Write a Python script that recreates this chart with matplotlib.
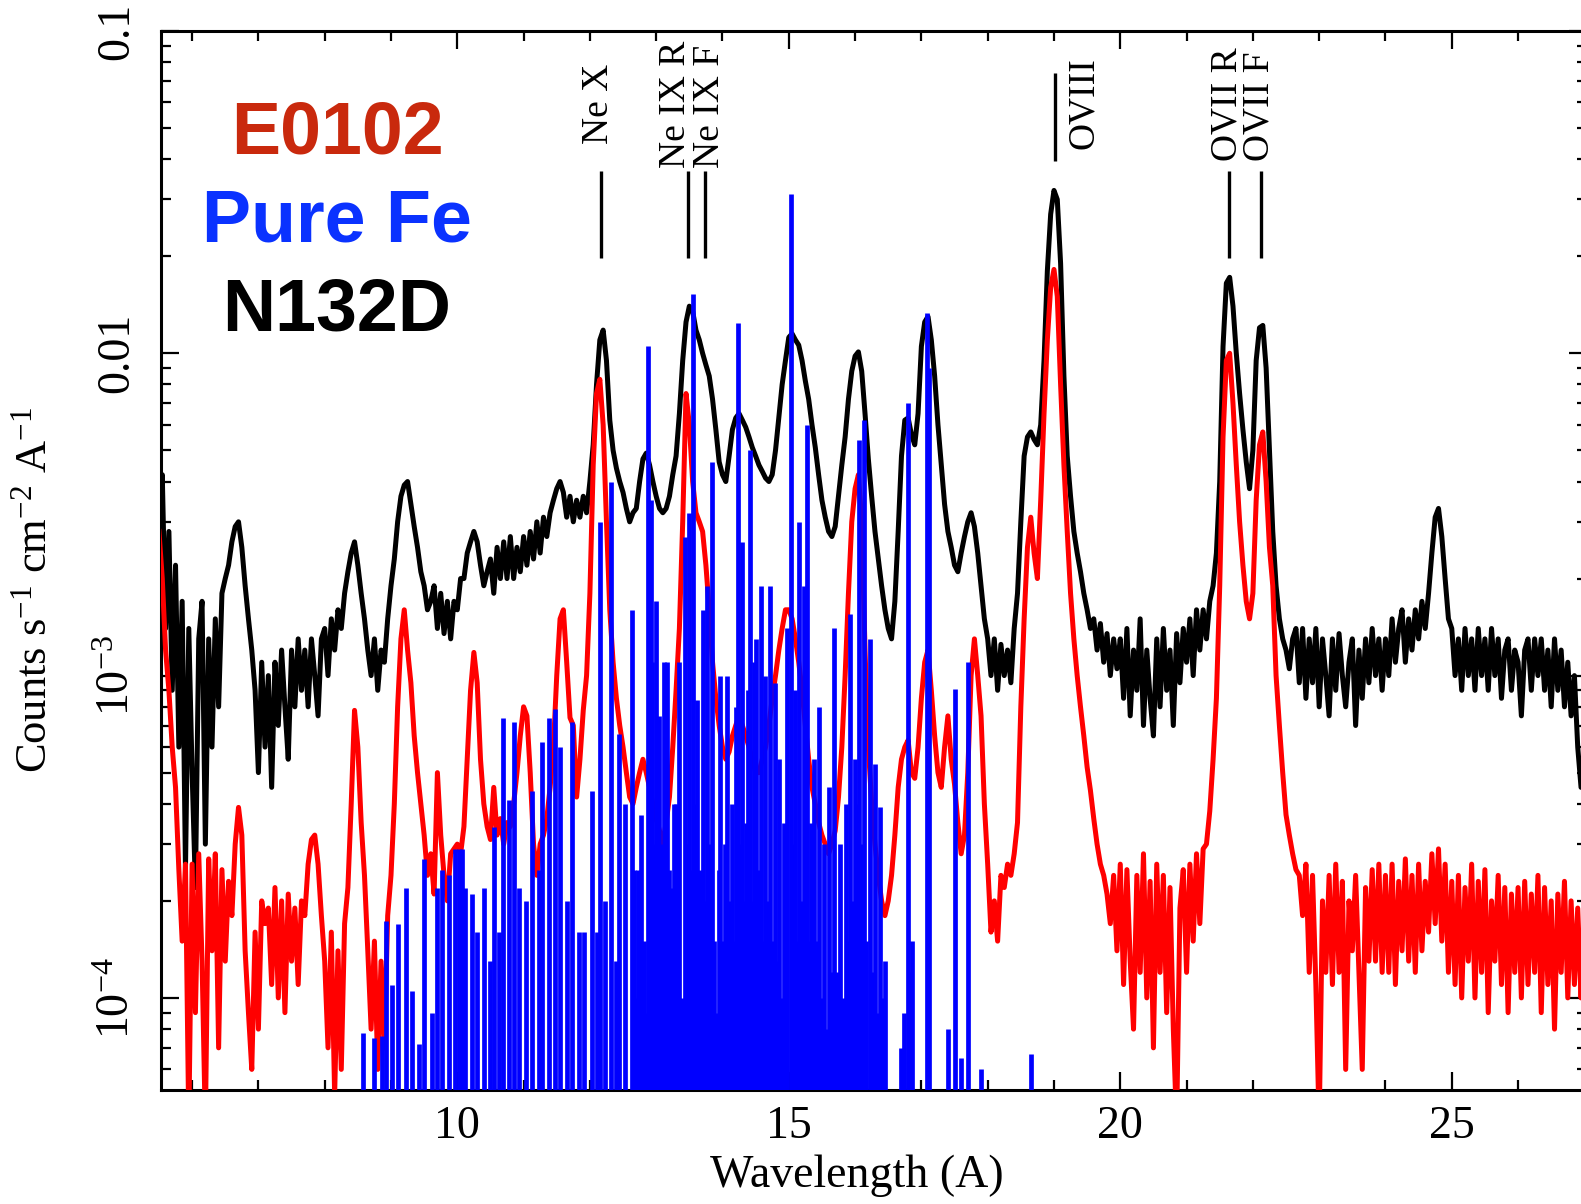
import numpy as np
import matplotlib
matplotlib.use("Agg")
import matplotlib.pyplot as plt
from matplotlib.ticker import FixedLocator, MultipleLocator, NullFormatter, LogLocator

plt.rcParams['font.family'] = ['Liberation Serif', 'DejaVu Serif']
plt.rcParams['mathtext.fontset'] = 'custom'
plt.rcParams['mathtext.rm'] = 'Liberation Serif'
plt.rcParams['mathtext.it'] = 'Liberation Serif:italic'

# spectra, flux in units of 1e-4 counts/s/cm2/A, sampled every 0.05 A from 5.5 A
unit = 1e-4
wl_start = 5.5
wl_step = 0.05

n132d = [
    30, 42, 14, 28, 9, 22, 6, 17, 2.5, 14,
    5, 2.2, 13, 17, 3, 13, 6, 15, 8, 18, 20, 22, 26, 29, 30, 25, 19, 15, 12, 9,
    5, 11, 6, 10, 4.5, 11, 7, 12, 8, 5.5, 12, 8, 13, 9, 12, 8, 13, 10, 7.5, 13,
    14, 10, 15, 12, 16, 14, 18, 21, 24, 26, 22, 18, 15, 12, 10, 13, 9, 12, 11, 15,
    19, 23, 30, 36, 39, 40, 34, 29, 25, 21, 19, 16, 17, 19, 14, 18, 13.5, 17, 13, 17,
    16, 20, 20, 24, 26, 28, 26, 22, 19, 21, 23, 18, 25, 20, 26, 20, 27, 20, 25, 21,
    27, 22, 28, 23, 30, 24, 31, 27, 32, 35, 38, 40, 37, 31, 36, 30, 35, 31, 36, 32,
    40, 52, 80, 110, 118, 95, 62, 50, 44, 40, 37, 33, 30, 32, 33, 40, 47, 49, 45, 40,
    36, 33, 32, 33, 36, 42, 48, 65, 95, 125, 140, 135, 118, 110, 100, 92, 85, 72, 58, 46,
    42, 40, 48, 58, 63, 65, 62, 59, 55, 51, 48, 45, 43, 41, 40, 42, 50, 63, 80, 95,
    112, 115, 110, 106, 95, 82, 72, 60, 51, 42, 35, 31, 28, 27, 29, 36, 45, 55, 72, 88,
    98, 101, 88, 65, 47, 36, 28, 23, 19, 16, 14, 13, 17, 28, 48, 62, 63, 56, 52, 65,
    105, 125, 130, 110, 85, 60, 45, 34, 28, 25, 22, 21, 24, 27, 30, 32, 29, 24, 19, 15,
    13, 10, 13, 9, 12.5, 10, 12, 9.5, 14, 18, 30, 48, 55, 57, 54, 52, 60, 95, 180, 270,
    320, 300, 190, 85, 48, 36, 28, 24, 21, 18, 16, 14, 15, 12, 14.5, 11, 13.5, 10, 13, 10.5,
    13, 8.5, 14, 7.5, 12, 9, 15, 7, 12, 8.5, 6.5, 13, 8, 14, 9, 12, 7, 13.5, 9.5, 14,
    11, 15, 10, 16, 12, 16, 13, 17, 19, 24, 40, 105, 165, 172, 140, 100, 75, 58, 46, 38,
    50, 95, 120, 122, 90, 50, 28, 19, 15, 13, 12, 10.5, 13, 14, 9.5, 14, 8.5, 13, 9.5, 14,
    8, 13, 10, 7.5, 13, 9, 13.5, 10, 8, 11, 13, 7, 12, 8.5, 13, 9.5, 14, 10, 13, 9,
    13, 10, 15, 11, 14, 16, 11, 15, 12, 16, 13, 17, 14, 18, 24, 31, 33, 27, 20, 15,
    14, 10, 13, 9, 14, 10, 13, 9, 14, 10, 13, 9, 14, 10, 13, 8.5, 12, 13, 9, 12,
    11, 7.5, 12, 13, 9, 13, 10, 13, 9, 12, 8, 13, 9, 12, 8, 11, 7.5, 10, 6, 4.5,
    4.5, 10,
]

e0102 = [
    28, 20, 12, 9, 6, 4.5, 2.5, 1.5, 2.6, 0.4,
    2.6, 0.9, 2.8, 1.3, 0.4, 2.7, 1.4, 2.8, 0.7, 2.5, 1.3, 2.3, 1.8, 3.0, 3.9, 3.2, 1.4, 0.9, 0.6, 1.6,
    0.8, 2.0, 1.7, 1.9, 1.1, 2.2, 1.0, 2.0, 0.9, 2.1, 1.3, 1.9, 1.1, 2.0, 1.8, 2.6, 3.1, 3.2, 2.6, 1.8,
    1.3, 0.7, 1.6, 0.5, 1.4, 0.6, 1.7, 2.2, 4.0, 7.8, 6.0, 3.5, 2.4, 1.4, 0.8, 1.5, 0.6, 1.3, 0.7, 1.8,
    2.4, 4.0, 8.0, 13, 16, 12, 9.5, 6.5, 5.0, 4.0, 3.2, 2.4, 2.8, 2.1, 5.0, 3.2, 2.4, 2.0, 2.8, 2.9,
    3.0, 2.8, 3.4, 5.5, 9.0, 11.8, 9.5, 5.5, 4.0, 3.4, 3.1, 4.5, 3.2, 3.6, 3.0, 3.5, 3.4, 4.0, 5.0, 6.5,
    8.0, 7.5, 5.0, 3.0, 2.4, 3.0, 3.2, 3.6, 4.5, 6.0, 10, 15, 16, 11, 7.4, 7.0, 4.2, 5.5, 7.8, 10,
    18, 45, 75, 83, 60, 30, 16, 11, 8.5, 7.0, 6.0, 5.0, 4.2, 4.0, 4.5, 5.0, 5.5, 5.0, 4.5, 4.0,
    3.6, 3.3, 3.0, 3.5, 4.2, 6.0, 9.0, 14, 30, 75, 60, 40, 32, 30, 28, 22, 16, 11, 8.5, 7.0,
    6.0, 5.5, 5.8, 6.5, 7.0, 7.5, 7.0, 6.5, 6.0, 5.5, 5.0, 5.0, 5.5, 6.0, 7.0, 8.5, 10, 12, 14, 16,
    16, 15, 13, 11, 9.0, 7.0, 5.5, 4.5, 4.0, 3.5, 3.2, 3.0, 2.8, 3.0, 3.3, 4.2, 6.0, 10, 18, 30,
    38, 42, 30, 12, 6.0, 4.0, 3.0, 2.4, 2.0, 1.8, 2.0, 2.4, 3.2, 4.5, 5.5, 6.0, 6.3, 5.0, 4.8, 6.0,
    8.5, 11, 12, 9, 6.5, 5.0, 4.5, 6.0, 7.5, 5.5, 4.6, 3.5, 2.8, 3.2, 5.0, 10, 13, 10, 7.5, 4.0,
    2.6, 1.6, 2.0, 1.5, 2.4, 2.2, 2.6, 2.4, 2.8, 3.5, 8.0, 15, 25, 31, 24, 20, 35, 65, 110, 160,
    182, 150, 80, 45, 28, 18, 13, 10, 8.0, 6.5, 5.2, 4.4, 3.6, 3.0, 2.6, 2.4, 2.1, 1.7, 2.4, 1.4,
    2.6, 1.1, 2.5, 1.3, 0.8, 2.4, 1.2, 2.8, 1.0, 2.3, 0.7, 2.6, 1.2, 2.4, 0.9, 2.2, 0.8, 0.4, 1.9, 2.5,
    1.2, 2.6, 1.5, 2.8, 1.7, 2.9, 3.0, 3.8, 5.5, 8.5, 19, 55, 95, 100, 70, 45, 30, 22, 17, 15,
    18, 35, 52, 57, 40, 25, 19, 10, 7.0, 5.0, 3.7, 3.2, 2.8, 2.5, 2.4, 1.8, 2.6, 1.2, 2.4, 1.1,
    0.4, 2.0, 1.2, 2.4, 1.1, 2.6, 1.2, 2.3, 0.6, 2.0, 1.4, 2.4, 1.2, 0.6, 2.2, 1.3, 2.5, 1.3, 2.6, 1.2,
    2.4, 1.2, 2.6, 1.1, 2.3, 1.4, 2.7, 1.3, 2.4, 1.2, 2.6, 1.4, 2.3, 1.6, 2.8, 1.7, 2.9, 1.5, 2.6, 1.2,
    2.3, 1.1, 2.4, 1.0, 2.2, 1.3, 2.6, 1.0, 2.3, 1.2, 2.5, 0.9, 2.0, 1.3, 2.4, 1.1, 2.2, 0.9, 2.1, 1.2,
    2.2, 1.0, 2.3, 1.1, 2.1, 1.2, 2.4, 0.9, 2.2, 1.1, 2.0, 0.8, 2.1, 1.2, 2.3, 1.0, 2.0, 1.1, 1.9, 1.0,
    2.0, 1.2,
]

# pure Fe model: narrow line spikes (wavelength, flux in 1e-4 units)
fe_wl = [
    8.58, 8.75, 8.86, 8.93, 9.02, 9.10, 9.22, 9.32, 9.42, 9.50,
    9.62, 9.70, 9.77, 9.87, 9.97, 10.02, 10.07, 10.12, 10.22, 10.30,
    10.40, 10.50, 10.55, 10.63, 10.69, 10.78, 10.85, 10.93, 11.03, 11.13,
    11.23, 11.28, 11.38, 11.47, 11.55, 11.65, 11.73, 11.83, 11.91, 12.03,
    12.11, 12.16, 12.23, 12.32, 12.40, 12.44, 12.53, 12.63,
    12.66, 12.69, 12.73, 12.77, 12.81, 12.84, 12.87, 12.92, 12.94, 12.97,
    12.99, 13.02, 13.04, 13.08, 13.12, 13.15, 13.17, 13.20, 13.24, 13.27,
    13.30, 13.34, 13.39, 13.43, 13.46, 13.50, 13.53, 13.56, 13.59, 13.62,
    13.66, 13.70, 13.73, 13.77, 13.80, 13.84, 13.87, 13.90, 13.94, 13.97,
    14.01, 14.04, 14.07, 14.11, 14.15, 14.19, 14.21, 14.24, 14.27, 14.30,
    14.33, 14.35, 14.38, 14.41, 14.44, 14.47, 14.51, 14.54, 14.58, 14.61,
    14.64, 14.67, 14.71, 14.75, 14.79, 14.82, 14.85, 14.89, 14.93, 14.96,
    14.98, 15.03, 15.06, 15.09, 15.12, 15.15, 15.19, 15.23, 15.28, 15.31,
    15.33, 15.36, 15.38, 15.42, 15.45, 15.49, 15.53, 15.57, 15.61, 15.65,
    15.68, 15.72, 15.75, 15.78, 15.82, 15.86, 15.90, 15.93, 15.97, 16.00,
    16.03, 16.06, 16.10, 16.13, 16.17, 16.22, 16.26, 16.30, 16.34, 16.37,
    16.41, 16.45, 16.70, 16.74, 16.80, 16.83, 16.86, 17.09, 17.12, 17.40,
    17.50, 17.60, 17.71, 17.90, 18.65,
]
fe_flux = [
    0.78, 0.75, 0.76, 1.73, 1.10, 1.70, 2.2, 1.05, 0.72, 2.7,
    0.9, 2.2, 2.5, 2.4, 2.9, 2.9, 2.9, 2.2, 2.1, 1.6,
    2.2, 1.3, 3.4, 1.6, 7.4, 4.1, 7.2, 2.2, 2.0, 4.4,
    2.5, 6.2, 7.4, 7.9, 6.0, 2.0, 7.2, 1.6, 1.6, 4.4,
    1.6, 30, 2.0, 40, 1.3, 6.6, 4.0, 16,
    2.5, 1.0, 2.5, 3.7, 1.5, 0.9, 105, 35, 11, 3.0,
    17, 2.0, 7.5, 3.0, 11, 3.5, 11, 2.5, 2.2, 4.0,
    4.0, 11, 1.0, 27, 3.0, 32, 2.5, 153, 4.0, 8.4,
    2.5, 16, 2.0, 19, 3.0, 46, 1.5, 0.9, 2.5, 10,
    1.5, 3.0, 10, 2.0, 4.0, 1.5, 8, 124, 3.0, 26,
    2.0, 3.5, 9, 50, 2.0, 11, 13, 2.5, 19, 1.5,
    10, 2.0, 19, 1.5, 9.5, 1.3, 5.5, 1.0, 3.5, 1.5,
    14, 312, 3.0, 9, 1.5, 30, 2.0, 19, 60, 1.5,
    3.5, 1.2, 5.5, 1.5, 8, 1.0, 3.0, 0.8, 4.5, 1.2,
    14, 1.2, 0.8, 3.0, 1.0, 4.0, 1.5, 15.5, 2.0, 5.5,
    4.0, 54, 3.0, 62, 1.5, 13, 1.2, 5.3, 0.9, 3.9,
    1.0, 1.3, 0.7, 0.9, 70, 1.2, 1.5, 133, 90, 0.8,
    9.1, 0.65, 11, 0.6, 0.67,
]

# line identifications
line_names = ["Ne X", "Ne IX R", "Ne IX F", "OVIII", "OVII R", "OVII F"]
line_wl = [12.17, 13.48, 13.74, 19.01, 21.64, 22.13]

# legend words
legend_names = ["E0102", "Pure Fe", "N132D"]
legend_colors = ["#c9290d", "#0a32ff", "#000000"]

fig = plt.figure(figsize=(15.81, 12.04), dpi=100)
ax = fig.add_axes([0.1018, 0.0947, 0.902, 0.8796])

wl_black = wl_start + wl_step * np.arange(len(n132d))
wl_red = wl_start + wl_step * np.arange(len(e0102))
ax.plot(wl_black, np.array(n132d) * unit, color='black', lw=3.6, zorder=2)
ax.plot(wl_red, np.array(e0102) * unit, color='red', lw=3.6, zorder=3)
ax.vlines(fe_wl, 1e-6, np.array(fe_flux) * unit, color='blue', lw=3.4, zorder=4)

ax.set_yscale('log')
ax.set_xlim(5.53, 27.04)
ax.set_ylim(5.18e-5, 0.1)

# line markers and labels
bar_lo = [0.0198, 0.0198, 0.0198, 0.0395, 0.0198, 0.0198]
bar_hi = [0.0368, 0.0368, 0.0368, 0.074, 0.0368, 0.0368]
text_x = [12.14, 13.30, 13.81, 19.45, 21.61, 22.10]
text_y = [0.0447, 0.0376, 0.0376, 0.043, 0.0395, 0.0395]
for name, w, lo, hi, tx, ty in zip(line_names, line_wl, bar_lo, bar_hi, text_x, text_y):
    ax.plot([w, w], [lo, hi], color='black', lw=2.4, solid_capstyle='butt', zorder=5)
    ax.text(tx, ty, name, rotation=90, ha='center', va='bottom', fontsize=27)

# ticks
ax.xaxis.set_major_locator(FixedLocator([10, 15, 20, 25]))
ax.xaxis.set_minor_locator(MultipleLocator(1))
ax.set_xticklabels(['10', '15', '20', '25'])
ax.yaxis.set_major_locator(FixedLocator([1e-4, 1e-3, 1e-2, 1e-1]))
ax.yaxis.set_minor_locator(LogLocator(base=10, subs=np.arange(2, 10)))
ax.yaxis.set_minor_formatter(NullFormatter())
ax.set_yticklabels([r'$10^{-4}$', r'$10^{-3}$', '0.01', '0.1'], rotation=90, va='center')
ax.tick_params(which='both', direction='in', top=True, right=True, width=1.6)
ax.tick_params(which='major', length=13, labelsize=33)
ax.tick_params(which='minor', length=7)
ax.tick_params(axis='x', which='major', pad=11)
ax.tick_params(axis='y', which='major', pad=16)
for s in ax.spines.values():
    s.set_linewidth(2.2)

fig.text(857 / 1581, 1 - 1176 / 1204, 'Wavelength (A)', ha='center', va='center', fontsize=33)
fig.text(35 / 1581, 1 - 590 / 1204, r'Counts s$^{-1}$ cm$^{-2}$ A$^{-1}$',
         ha='center', va='center', rotation=90, fontsize=32)

base_y = [153, 242, 330]
for name, c, by in zip(legend_names, legend_colors, base_y):
    fig.text(337 / 1581, 1 - by / 1204, name, color=c, ha='center', va='baseline',
             fontsize=53, fontweight='bold', family='Liberation Sans')

fig.savefig('out.png', dpi=100)
